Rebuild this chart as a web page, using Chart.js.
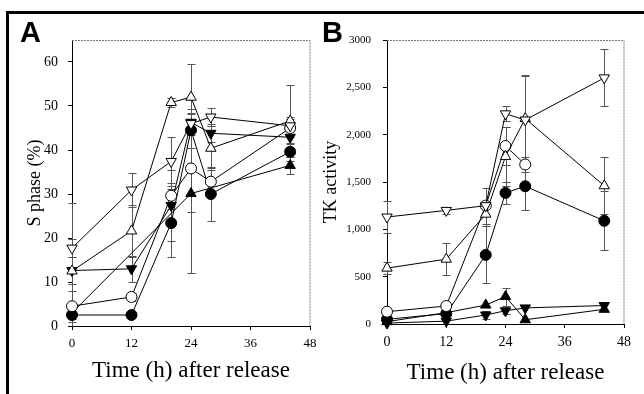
<!DOCTYPE html>
<html>
<head>
<meta charset="utf-8">
<script src="https://cdn.jsdelivr.net/npm/chart.js@4.4.0/dist/chart.umd.min.js"></script>
<style>
  body { margin: 0; background: #fff; }
  #wrap { position: relative; width: 644px; height: 394px; overflow: hidden; }
  #frame { position: absolute; left: 6px; top: 11px; width: 700px; height: 400px;
           border-top: 3px solid #000; border-left: 3px solid #000; }
  canvas { position: absolute; left: 0; top: 0; }
</style>
</head>
<body>
<div id="wrap">
  <div id="frame"></div>
  <canvas id="chartA" width="644" height="394"></canvas>
  <canvas id="chartB" width="644" height="394"></canvas>
</div>
<script>
// sampling times (h after release)
var times = [0, 12, 20, 24, 28, 44];
var xTicks = [0, 12, 24, 36, 48];

// panel A: S phase (%)
var sA_openDown   = [17.7, 30.9, 37.4, 46, 47.5, 45.5];
var sA_openUp     = [12.5, 21.6, 50.8, 52, 40.4, 46.6];
var sA_openCircle = [4.5, 6.6, 29.6, 35.8, 32.8, 45];
var sA_fillCircle = [2.5, 2.5, 23.4, 44.5, 30, 39.6];
var sA_fillDown   = [12.6, 13, 27.4, 46.3, 43.8, 42.9];
var sA_fillUp     = [3, null, null, 30.1, null, 36.5];
// error bars (+/-)
var eA_openDown   = [2, 3.8, 5.5, 0, 2, 2];
var eA_openUp     = [15.5, 6, 1, 7.5, 5, 8.2];
var eA_openCircle = [3.5, 1, 3, 10, 3, 2];
var eA_fillCircle = [1, 0, 7.8, 4, 6.2, 2];
var eA_fillDown   = [3, 3, 8, 3, 2, 1.5];
var eA_fillUp     = [1, 0, 0, 18, 0, 2];
var yTicksA = [0, 10, 20, 30, 40, 50, 60];

// panel B: TK activity
var tkB_openDown   = [1130, 1200, 1250, 2220, 2155, 2600];
var tkB_openUp     = [590, 685, 1160, 1770, 2170, 1460];
var tkB_openCircle = [130, 190, 1250, 1880, 1685, null];
var tkB_fillCircle = [50, 110, 730, 1385, 1455, 1090];
var tkB_fillDown   = [10, 30, 95, 140, 170, 195];
var tkB_fillUp     = [25, 120, 200, 290, 45, 155];
var eB_openDown    = [170, 40, 190, 80, 470, 300];
var eB_openUp      = [60, 170, 120, 310, 460, 300];
var eB_openCircle  = [0, 0, 0, 200, 80, 0];
var eB_fillCircle  = [0, 0, 300, 115, 250, 310];
var eB_fillDown    = [0, 0, 40, 30, 0, 0];
var eB_fillUp      = [0, 0, 0, 95, 0, 0];
var yTicksB  = [0, 500, 1000, 1500, 2000, 2500, 3000];
var yLabelsB = ['0', '500', '1,000', '1,500', '2,000', '2,500', '3000'];

var serif = "'Liberation Serif', 'Times New Roman', serif";

function series(vals, err, style, rot, fill, r) {
  return {
    data: times.map(function (t, i) { return { x: t, y: vals[i] }; }),
    err: err,
    borderColor: '#000',
    borderWidth: 1,
    pointStyle: style,
    rotation: rot,
    pointRadius: r,
    pointBackgroundColor: fill,
    pointBorderColor: '#000',
    pointBorderWidth: 1,
    spanGaps: true,
    tension: 0,
    clip: false
  };
}

var errorBars = {
  id: 'errorBars',
  beforeDatasetsDraw: function (chart) {
    var ctx = chart.ctx, xs = chart.scales.x, ys = chart.scales.y;
    ctx.save();
    ctx.strokeStyle = '#555';
    ctx.lineWidth = 1;
    chart.data.datasets.forEach(function (ds) {
      ds.data.forEach(function (p, i) {
        var e = ds.err[i];
        if (p.y == null || !e) return;
        var x = Math.round(xs.getPixelForValue(p.x)) + 0.5;
        var top = Math.round(ys.getPixelForValue(p.y + e)) + 0.5;
        var low = Math.max(p.y - e, ys.min);
        var bot = Math.round(ys.getPixelForValue(low)) + 0.5;
        ctx.beginPath();
        ctx.moveTo(x, top); ctx.lineTo(x, bot);
        ctx.moveTo(x - 4, top); ctx.lineTo(x + 4, top);
        if (low > ys.min) { ctx.moveTo(x - 4, bot); ctx.lineTo(x + 4, bot); }
        ctx.stroke();
      });
    });
    ctx.restore();
  }
};

// dotted top/right frame of the plot + panel letter
var panel = {
  id: 'panel',
  afterDraw: function (chart, args, opts) {
    var ctx = chart.ctx, a = chart.chartArea;
    ctx.save();
    ctx.strokeStyle = '#777';
    ctx.lineWidth = 1;
    ctx.setLineDash([2, 1]);
    ctx.beginPath();
    ctx.moveTo(a.left, Math.round(a.top) + 0.5);
    ctx.lineTo(a.right, Math.round(a.top) + 0.5);
    ctx.lineTo(a.right, a.bottom);
    ctx.stroke();
    ctx.setLineDash([]);
    ctx.fillStyle = '#000';
    ctx.font = "bold 29px 'Liberation Sans', Arial, sans-serif";
    ctx.textBaseline = 'alphabetic';
    ctx.fillText(opts.letter, opts.lx, 42);
    ctx.restore();
  }
};

function makeOptions(o) {
  return {
    responsive: false,
    animation: false,
    layout: { padding: o.padding },
    plugins: {
      legend: { display: false },
      tooltip: { enabled: false },
      panel: { letter: o.letter, lx: o.lx }
    },
    scales: {
      x: {
        type: 'linear', min: 0, max: 48,
        afterBuildTicks: function (s) { s.ticks = xTicks.map(function (v) { return { value: v }; }); },
        afterFit: function (s) { s.height = o.xh; },
        grid: { drawOnChartArea: false, tickLength: 4, color: '#000' },
        border: { color: '#000', width: 1 },
        ticks: { font: { family: serif, size: o.xtSize }, color: '#000', padding: 6, maxRotation: 0 },
        title: { display: true, text: 'Time (h) after release', color: '#000',
                 font: { family: serif, size: 23 }, padding: { top: 0, bottom: o.xtPad } }
      },
      y: {
        min: 0, max: o.ymax,
        afterBuildTicks: function (s) { s.ticks = o.yTicks.map(function (v) { return { value: v }; }); },
        afterFit: function (s) { s.width = o.yw; },
        grid: { drawOnChartArea: false, tickLength: 4, color: '#000' },
        border: { color: '#000', width: 1 },
        ticks: { font: { family: serif, size: o.ytSize }, color: '#000', padding: o.ytPad,
                 callback: function (v) { return o.yLabels[o.yTicks.indexOf(v)]; } },
        title: { display: true, text: o.ytitle, color: '#000',
                 font: { family: serif, size: 18 }, padding: 0 }
      }
    }
  };
}

new Chart(document.getElementById('chartA'), {
  type: 'line',
  data: { datasets: [
    series(sA_openDown, eA_openDown, 'triangle', 180, '#fff', 6),
    series(sA_openUp, eA_openUp, 'triangle', 0, '#fff', 6),
    series(sA_openCircle, eA_openCircle, 'circle', 0, '#fff', 5.5),
    series(sA_fillCircle, eA_fillCircle, 'circle', 0, '#000', 5.5),
    series(sA_fillDown, eA_fillDown, 'triangle', 180, '#000', 6),
    series(sA_fillUp, eA_fillUp, 'triangle', 0, '#000', 6)
  ] },
  options: makeOptions({
    padding: { left: 24, right: 334, top: 40, bottom: 0 },
    letter: 'A', lx: 20, xh: 68, xtSize: 13, xtPad: 9,
    ymax: 65, yTicks: yTicksA, yLabels: yTicksA.map(String), yw: 48, ytSize: 14, ytPad: 10,
    ytitle: 'S phase (%)'
  }),
  plugins: [errorBars, panel]
});

new Chart(document.getElementById('chartB'), {
  type: 'line',
  data: { datasets: [
    series(tkB_openDown, eB_openDown, 'triangle', 180, '#fff', 6),
    series(tkB_openUp, eB_openUp, 'triangle', 0, '#fff', 6),
    series(tkB_openCircle, eB_openCircle, 'circle', 0, '#fff', 5.5),
    series(tkB_fillCircle, eB_fillCircle, 'circle', 0, '#000', 5.5),
    series(tkB_fillDown, eB_fillDown, 'triangle', 180, '#000', 6),
    series(tkB_fillUp, eB_fillUp, 'triangle', 0, '#000', 6)
  ] },
  options: makeOptions({
    padding: { left: 320, right: 20, top: 40, bottom: 0 },
    letter: 'B', lx: 322, xh: 70, xtSize: 14, xtPad: 7,
    ymax: 3000, yTicks: yTicksB, yLabels: yLabelsB, yw: 67, ytSize: 11, ytPad: 12,
    ytitle: 'TK activity'
  }),
  plugins: [errorBars, panel]
});
</script>
</body>
</html>
